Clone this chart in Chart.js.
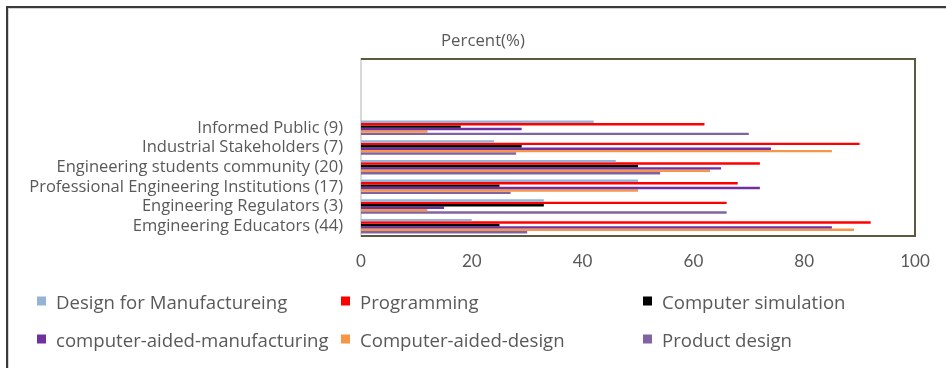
<!DOCTYPE html>
<html>
<head>
<meta charset="utf-8">
<script src="https://cdn.jsdelivr.net/npm/chart.js@4.4.1/dist/chart.umd.min.js"></script>
<style>
  body { margin: 0; background: #fff; }
  #wrap { position: relative; width: 946px; height: 368px; overflow: hidden; font-family: "Open Sans", Lato, sans-serif; }
  #frame { position: absolute; left: 6px; top: 6px; width: 980px; height: 400px;
           border-top: 2px solid #3a3a3a; border-left: 2px solid #3a3a3a;
           box-shadow: inset 1px 1px 0 #d4d4d4; }
  #chart { position: absolute; left: 0; top: 0; }
  #title { position: absolute; left: 441px; top: 28px; font-size: 16.8px; color: #595959; }
  .item { position: absolute; display: flex; align-items: center; font-size: 18.6px; color: #595959;
          transform: translateY(-50%); white-space: nowrap; }
  .box { width: 9px; height: 9px; margin-right: 10px; }
</style>
</head>
<body>
<div id="wrap">
  <div id="frame"></div>
  <canvas id="chart" width="946" height="368"></canvas>
  <div id="title">Percent(%)</div>
  <div id="legend"></div>
</div>
<script>
// three empty rows sit above the real groups
const categories = ['', '', '',
  'Informed Public (9)',
  'Industrial Stakeholders (7)',
  'Engineering students community (20)',
  'Professional Engineering Institutions (17)',
  'Engineering Regulators (3)',
  'Emgineering Educators (44)'];

const designForManufacturing = [null, null, null, 42, 24, 46, 50, 33, 20];
const programming            = [null, null, null, 62, 90, 72, 68, 66, 92];
const computerSimulation     = [null, null, null, 18, 29, 50, 25, 33, 25];
const computerAidedMfg       = [null, null, null, 29, 74, 65, 72, 15, 85];
const computerAidedDesign    = [null, null, null, 12, 85, 63, 50, 12, 89];
const productDesign          = [null, null, null, 70, 28, 54, 27, 66, 30];

const xTicks = [0, 20, 40, 60, 80, 100];

const series = [
  { label: 'Design for Manufactureing', data: designForManufacturing, color: '#95B3D7' },
  { label: 'Programming', data: programming, color: '#FF0000' },
  { label: 'Computer simulation', data: computerSimulation, color: '#000000' },
  { label: 'computer-aided-manufacturing', data: computerAidedMfg, color: '#7030A0' },
  { label: 'Computer-aided-design', data: computerAidedDesign, color: '#F79646' },
  { label: 'Product design', data: productDesign, color: '#8064A2' }
];

// frame round the plot: dark on top/right/bottom, left edge is the axis line
const plotFrame = {
  id: 'plotFrame',
  afterDatasetsDraw(chart) {
    const { ctx, chartArea: a } = chart;
    ctx.save();
    ctx.strokeStyle = '#5a5a40';
    ctx.lineWidth = 2;
    ctx.beginPath();
    ctx.moveTo(a.left, a.top);
    ctx.lineTo(a.right, a.top);
    ctx.lineTo(a.right, a.bottom);
    ctx.lineTo(a.left, a.bottom);
    ctx.stroke();
    ctx.restore();
  }
};

const chart = new Chart(document.getElementById('chart'), {
  type: 'bar',
  data: {
    labels: categories,
    datasets: series.map(s => ({
      label: s.label,
      data: s.data,
      backgroundColor: s.color,
      borderWidth: 0,
      categoryPercentage: 0.74,
      barPercentage: 1.0
    }))
  },
  options: {
    indexAxis: 'y',
    responsive: false,
    animation: false,
    layout: { padding: { top: 59, right: 31, bottom: 92, left: 0 } },
    plugins: {
      legend: { display: false },
      tooltip: { enabled: false }
    },
    scales: {
      x: {
        min: xTicks[0],
        max: xTicks[xTicks.length - 1],
        afterBuildTicks: s => { s.ticks = xTicks.map(v => ({ value: v })); },
        afterFit: s => { s.height = 40; },
        grid: { display: false, drawTicks: false },
        border: { display: false },
        ticks: { color: '#595959', padding: 15, font: { family: 'Lato', size: 17 } }
      },
      y: {
        afterFit: s => { s.width = 361; },
        grid: { display: false, drawTicks: false },
        border: { color: '#d9d9d9', width: 2 },
        ticks: { color: '#595959', padding: 18, autoSkip: false, font: { family: '"Open Sans"', size: 16.5 } }
      }
    }
  },
  plugins: [plotFrame]
});

// legend in three columns, two rows
const legendCols = [37, 341, 643];
const legendRows = [301, 339];
const legend = document.getElementById('legend');
chart.data.datasets.forEach((ds, i) => {
  const item = document.createElement('div');
  item.className = 'item';
  item.style.left = legendCols[i % 3] + 'px';
  item.style.top = legendRows[Math.floor(i / 3)] + 'px';
  const box = document.createElement('span');
  box.className = 'box';
  box.style.background = ds.backgroundColor;
  item.appendChild(box);
  item.appendChild(document.createTextNode(ds.label));
  legend.appendChild(item);
});
</script>
</body>
</html>
